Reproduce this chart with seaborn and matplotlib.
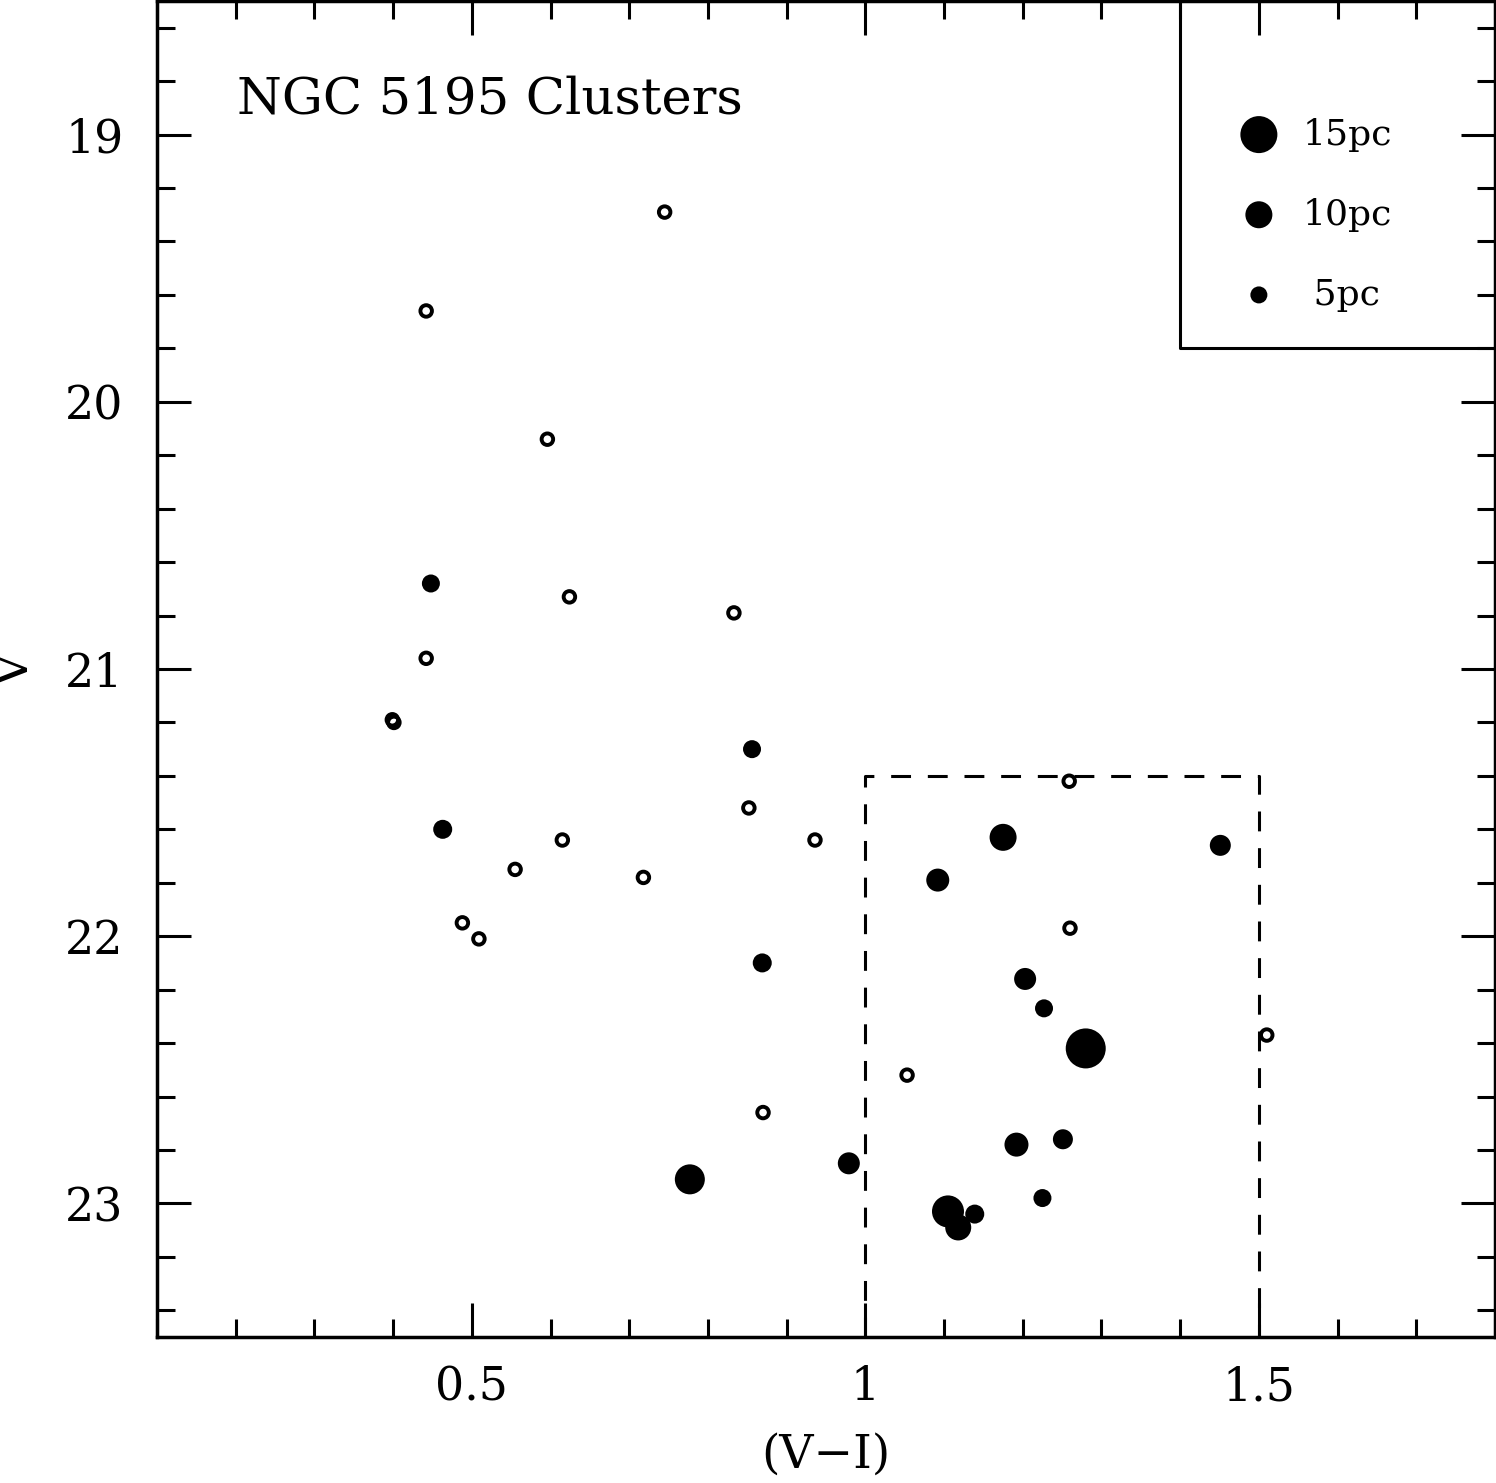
import numpy as np
import matplotlib
matplotlib.use("Agg")
import matplotlib.pyplot as plt
import seaborn as sns

# open circles (no size measured)
open_vi = [0.745, 0.442, 0.596, 0.624, 0.833, 0.442, 0.399, 0.401, 0.852, 0.615,
           0.936, 0.555, 0.718, 0.488, 0.509, 1.259, 1.260, 1.510, 1.053, 0.870]
open_v = [19.29, 19.66, 20.14, 20.73, 20.79, 20.96, 21.19, 21.20, 21.52, 21.64,
          21.64, 21.75, 21.78, 21.95, 22.01, 21.42, 21.97, 22.37, 22.52, 22.66]

# filled circles, marker scaled by cluster radius (pc)
fill_vi = [0.448, 0.856, 0.463, 0.869, 1.175, 1.092, 1.451, 1.203, 1.227, 1.280,
           1.251, 1.192, 0.979, 0.777, 1.225, 1.105, 1.139, 1.118]
fill_v = [20.68, 21.30, 21.60, 22.10, 21.63, 21.79, 21.66, 22.16, 22.27, 22.42,
          22.76, 22.78, 22.85, 22.91, 22.98, 23.03, 23.04, 23.09]
fill_r = [5.5, 5.5, 6.0, 6.0, 10.0, 8.0, 7.0, 7.5, 5.5, 16.5,
          6.5, 8.5, 7.5, 11.5, 5.5, 12.5, 6.0, 9.5]

# size key
key_r = [15, 10, 5]
key_labels = ["15pc", "10pc", " 5pc"]
key_v = [19.0, 19.3, 19.6]
key_vi = 1.5
key_box_vi = 1.4
key_box_v = 19.8

# dashed selection box
sel_vi = [1.0, 1.5]
sel_v_top = 21.4

xlim = (0.1, 1.8)
ylim = (23.5, 18.5)


def radius_to_area(r):
    # marker diameter in px grows linearly with radius, convert to pt^2
    d_px = 7 + 2 * np.asarray(r, dtype=float)
    return (d_px * 72 / 100) ** 2


sns.set_style("ticks")
plt.rcParams["font.family"] = ["DejaVu Serif"]
plt.rcParams["text.color"] = "black"
plt.rcParams["xtick.color"] = "black"
plt.rcParams["ytick.color"] = "black"
plt.rcParams["axes.labelcolor"] = "black"

fig = plt.figure(figsize=(14.96, 14.83), dpi=100)
ax = fig.add_axes([157 / 1496, 146 / 1483, 1338 / 1496, 1336 / 1483])

sns.scatterplot(x=open_vi, y=open_v, ax=ax, marker="o", s=8.3 ** 2,
                facecolors="none", edgecolor="black", linewidth=2.8, legend=False)
sns.scatterplot(x=fill_vi, y=fill_v, ax=ax, marker="o", s=radius_to_area(fill_r),
                color="black", linewidth=0, legend=False)

# selection box
ax.plot([sel_vi[0], sel_vi[0], sel_vi[1], sel_vi[1]],
        [ylim[0], sel_v_top, sel_v_top, ylim[0]],
        color="black", lw=2.2, linestyle=(0, (6.5, 5.5)))

# size key box
ax.plot([key_box_vi, key_box_vi, xlim[1]], [ylim[1], key_box_v, key_box_v],
        color="black", lw=2.2)
sns.scatterplot(x=[key_vi] * 3, y=key_v, ax=ax, marker="o", s=radius_to_area(key_r),
                color="black", linewidth=0, legend=False)
for v, lab in zip(key_v, key_labels):
    ax.text(key_vi + 0.055, v, lab, fontsize=26, va="center", ha="left")

ax.text(80 / 1338, 1 - 112 / 1336, "NGC 5195 Clusters", transform=ax.transAxes,
        fontsize=37, va="baseline", ha="left")

ax.set_xlim(*xlim)
ax.set_ylim(*ylim)
ax.set_xticks([0.5, 1.0, 1.5])
ax.set_xticklabels(["0.5", "1", "1.5"])
ax.set_xticks(np.arange(0.1, 1.81, 0.1), minor=True)
ax.set_yticks([19, 20, 21, 22, 23])
ax.set_yticklabels(["19", "20", "21", "22", "23"])
ax.set_yticks(np.arange(18.6, 23.5, 0.2), minor=True)

ax.tick_params(which="both", direction="in", top=True, right=True, width=2.2,
               color="black", labelcolor="black")
ax.tick_params(which="major", length=24.5)
ax.tick_params(which="minor", length=13)
ax.tick_params(axis="x", which="major", labelsize=33, pad=20)
ax.tick_params(axis="y", which="major", labelsize=33, pad=24)
for sp in ax.spines.values():
    sp.set_linewidth(2.5)
    sp.set_color("black")

fig.text(826 / 1496, 1 - 1455 / 1483, "(V\u2212I)", fontsize=34, ha="center", va="center")
fig.text(16 / 1496, 1 - 670 / 1483, "V", fontsize=34, ha="center", va="center",
         rotation=90)

fig.savefig("out.png", dpi=100)
